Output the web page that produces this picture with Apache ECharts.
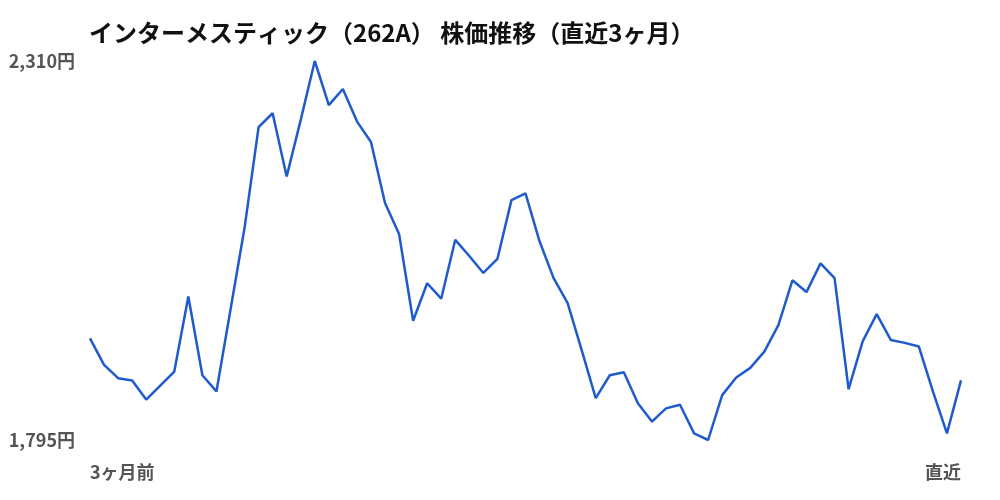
<!DOCTYPE html>
<html><head><meta charset="utf-8">
<script src="https://cdn.jsdelivr.net/npm/echarts@6/dist/echarts.min.js"></script>
<style>html,body{margin:0;padding:0;background:#fff}#c{width:1000px;height:500px}</style>
</head><body><div id="c"></div>
<script>
const titleText = 'インターメスティック（262A） 株価推移（直近3ヶ月）';
const prices = [1933,1897,1879,1876,1850,1869,1888,1990,1883,1861,1972,2083,2220,2239,2153,2230,2310,2250,2272,2228,2200,2117,2075,1957,2008,1987,2067,2045,2022,2041,2121,2130,2065,2015,1981,1917,1852,1883,1887,1845,1820,1838,1843,1804,1795,1856,1880,1893,1915,1951,2012,1996,2035,2015,1864,1929,1966,1931,1927,1922,1861,1804,1876];
const xEndLabels = ['3ヶ月前','直近'];
const yMin = 1795, yMax = 2310;
const categories = prices.map((_, i) => i);
const font = '"Noto Sans CJK JP", "Noto Sans", sans-serif';
const chart = echarts.init(document.getElementById('c'));
chart.setOption({
  animation: false,
  title: { text: titleText, left: 84, top: 16, textStyle: { fontFamily: font, fontSize: 24, fontWeight: 'bold', color: '#111' } },
  grid: { left: 90, right: 39, top: 61, bottom: 60 },
  xAxis: {
    type: 'category', data: categories, boundaryGap: false,
    axisLine: { show: false }, axisTick: { show: false }, splitLine: { show: false },
    axisLabel: {
      interval: 0, margin: 23, fontFamily: font, fontSize: 18, fontWeight: 'bold', color: '#555',
      alignMinLabel: 'left', alignMaxLabel: 'right',
      formatter: (v, i) => i === 0 ? xEndLabels[0] : (i === prices.length - 1 ? xEndLabels[1] : '')
    }
  },
  yAxis: {
    type: 'value', min: yMin, max: yMax,
    axisLine: { show: false }, axisTick: { show: false }, splitLine: { show: false },
    axisLabel: {
      customValues: [yMin, yMax], margin: 15, fontFamily: font, fontSize: 18, fontWeight: 'bold', color: '#555',
      formatter: v => (v === yMin || v === yMax) ? v.toLocaleString('en-US') + '円' : ''
    }
  },
  series: [{ type: 'line', data: prices, showSymbol: false, lineStyle: { color: '#1f5bcc', width: 2.5 } }]
});
</script></body></html>
